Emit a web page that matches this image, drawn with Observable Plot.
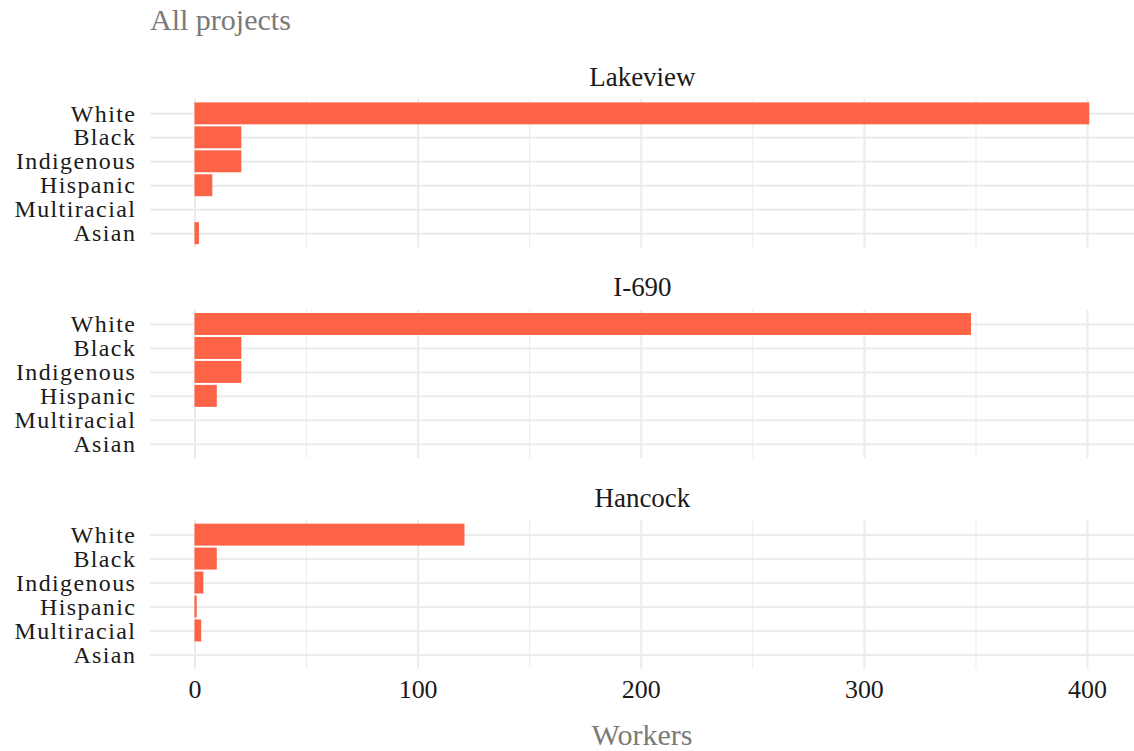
<!DOCTYPE html>
<html>
<head>
<meta charset="utf-8">
<script src="https://cdn.jsdelivr.net/npm/d3@7"></script>
<script src="https://cdn.jsdelivr.net/npm/@observablehq/plot@0.6"></script>
<style>
  html, body { margin: 0; padding: 0; background: #fff; overflow: hidden; }
  body { width: 1134px; height: 751px; position: relative; font-family: "Liberation Serif", serif; }
  #title { position: absolute; left: 150px; top: 0; height: 40px; line-height: 40px; font-size: 30px; color: #7a7a7a; }
  #chart { position: absolute; left: 0; top: 40px; }
  #xlabel { position: absolute; left: 0; width: 1284px; top: 712px; height: 46px; line-height: 46px; text-align: center; font-size: 30px; color: #7a7a7a; }
  #chart g[aria-label="y-axis tick label"] text { letter-spacing: 1.4px; }
</style>
</head>
<body>
<div id="title">All projects</div>
<div id="chart"></div>
<div id="xlabel">Workers</div>
<script>
const projects = ["Lakeview", "I-690", "Hancock"];
const groups = ["White", "Black", "Indigenous", "Hispanic", "Multiracial", "Asian"];
const lakeview = [401, 21, 21, 8, 0, 2];
const i690 = [348, 21, 21, 10, 0, 0];
const hancock = [121, 10, 4, 1, 3, 0];
const xTicks = [0, 100, 200, 300, 400];
const xMinor = [50, 150, 250, 350];

const seriesByProject = {"Lakeview": lakeview, "I-690": i690, "Hancock": hancock};
const rows = projects.flatMap(p => groups.map((g, i) => ({project: p, group: g, workers: seriesByProject[p][i]})));

const grid = "#ebebeb";
const chart = Plot.plot({
  width: 1136,
  height: 671.5,
  marginTop: 57.5,
  marginBottom: 40,
  marginLeft: 150,
  marginRight: 0,
  style: {fontFamily: "Liberation Serif", background: "transparent"},
  x: {domain: [-20.05, 421.05]},
  y: {domain: groups, paddingInner: 0.1, paddingOuter: 0.15},
  fy: {domain: projects, paddingInner: 0.292, paddingOuter: 0, axis: null},
  marks: [
    Plot.gridX({ticks: xMinor, stroke: grid, strokeOpacity: 1, strokeWidth: 1}),
    Plot.gridX({ticks: xTicks, stroke: grid, strokeOpacity: 1, strokeWidth: 2}),
    Plot.gridY({stroke: grid, strokeOpacity: 1, strokeWidth: 2}),
    Plot.barX(rows, {x: "workers", y: "group", fy: "project", fill: "#ff6347"}),
    Plot.axisY({tickSize: 0, tickPadding: 14, fontSize: 24, label: null, color: "#1a1a1a"}),
    Plot.axisX({ticks: xTicks, tickSize: 0, tickPadding: 10, fontSize: 26, label: null, color: "#1a1a1a"}),
    Plot.text(projects, {fy: d => d, text: d => d, frameAnchor: "top", lineAnchor: "middle", dy: -22.5, fontSize: 27, fill: "#1a1a1a"})
  ]
});
document.getElementById("chart").appendChild(chart);
</script>
</body>
</html>
